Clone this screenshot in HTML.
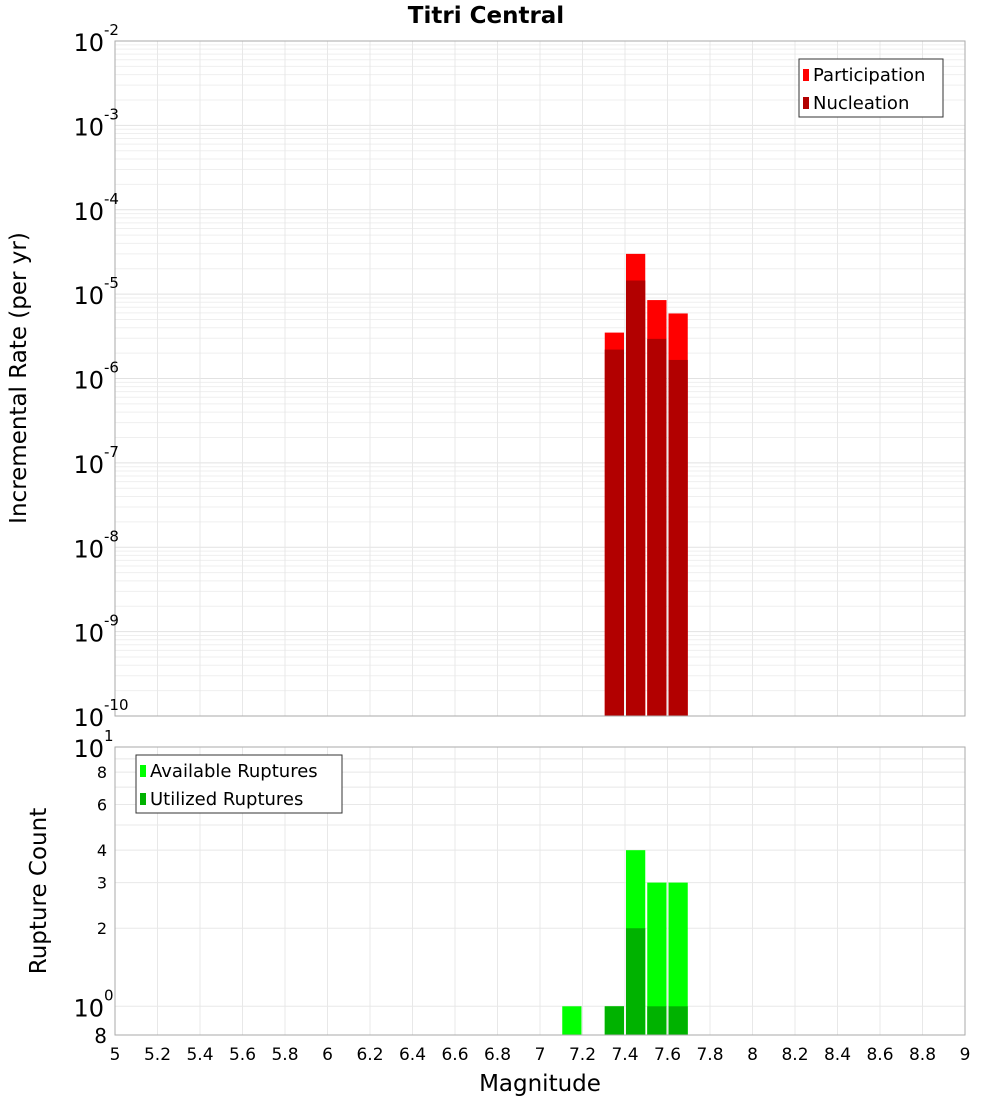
<!DOCTYPE html>
<html><head><meta charset="utf-8"><style>
body{margin:0;background:#fff;font-family:"DejaVu Sans","Liberation Sans",sans-serif}
svg text{font-family:"DejaVu Sans","Liberation Sans",sans-serif}
</style></head><body>
<svg id="c" width="1000" height="1100" viewBox="0 0 1000 1100" xmlns="http://www.w3.org/2000/svg">
<text x="486" y="23" text-anchor="middle" font-size="23" font-weight="bold">Titri Central</text>
<g id="top"></g><g id="bot"></g>
<text transform="translate(26,378) rotate(-90)" text-anchor="middle" font-size="23">Incremental Rate (per yr)</text>
<text transform="translate(46,891) rotate(-90)" text-anchor="middle" font-size="23">Rupture Count</text>
<text x="540" y="1091" text-anchor="middle" font-size="23">Magnitude</text>
</svg>
<script>
const mags=[7.35,7.45,7.55,7.65];
const participation=[3.5e-6,3.0e-5,8.5e-6,5.9e-6];
const nucleation=[2.2e-6,1.45e-5,2.95e-6,1.66e-6];
const countMags=[7.15,7.35,7.45,7.55,7.65];
const available=[1,1,4,3,3];
const utilized=[0,1,2,1,1];
const xTicks=[5,5.2,5.4,5.6,5.8,6,6.2,6.4,6.6,6.8,7,7.2,7.4,7.6,7.8,8,8.2,8.4,8.6,8.8,9];
const topDecades=[-10,-9,-8,-7,-6,-5,-4,-3,-2];
const botTicks=[2,3,4,6,8];

const NS="http://www.w3.org/2000/svg";
function mk(p,t,a){const e=document.createElementNS(NS,t);for(const k in a)e.setAttribute(k,a[k]);p.appendChild(e);return e;}
const L=115,R=965;
const x=m=>L+(m-5)/4*(R-L);
const T0=41,T1=716;
const yT=v=>T1-(Math.log10(v)+10)/8*(T1-T0);
const B0=747,B1=1035,bmin=0.775;
const yB=v=>B1-(Math.log10(v)-Math.log10(bmin))/(1-Math.log10(bmin))*(B1-B0);
const gTop=document.getElementById('top'),gBot=document.getElementById('bot');

for(let d=-10;d<-2;d++)for(let k=1;k<10;k++){const y=yT(k*Math.pow(10,d));
 const g=mk(gTop,'line',{x1:L,x2:R,y1:y,y2:y,stroke:k==1?'#e2e2e2':'#efefef','stroke-width':1});
 
 }
xTicks.forEach(t=>{[[gTop,T0,T1],[gBot,B0,B1]].forEach(([p,a,b])=>{const g=mk(p,'line',{x1:x(t),x2:x(t),y1:a,y2:b,stroke:'#e8e8e8'});
 
 });});
for(let k=1;k<=10;k++){const y=yB(k);const g=mk(gBot,'line',{x1:L,x2:R,y1:y,y2:y,stroke:'#e8e8e8'});
 
 }

const bw=(R-L)/40-2;
mags.forEach((m,i)=>{
 const b1=mk(gTop,'rect',{x:x(m)-bw/2,y:yT(participation[i]),width:bw,height:T1-yT(participation[i]),fill:'#ff0000'});
 
 
 const b2=mk(gTop,'rect',{x:x(m)-bw/2,y:yT(nucleation[i]),width:bw,height:T1-yT(nucleation[i]),fill:'#b20000'});
 
 
});
countMags.forEach((m,i)=>{
 if(available[i]>0){const b=mk(gBot,'rect',{x:x(m)-bw/2,y:yB(available[i]),width:bw,height:B1-yB(available[i]),fill:'#00ff00'});
 
 }
 if(utilized[i]>0){const b=mk(gBot,'rect',{x:x(m)-bw/2,y:yB(utilized[i]),width:bw,height:B1-yB(utilized[i]),fill:'#00b200'});
 
 }
});
[[gTop,T0,T1],[gBot,B0,B1]].forEach(([p,a,b])=>{const r=mk(p,'rect',{x:L,y:a,width:R-L,height:b-a,fill:'none',stroke:'#aaa'});
 
 });

topDecades.forEach(d=>{const y=yT(Math.pow(10,d));
 const t=mk(gTop,'text',{x:104,y:y+10,'text-anchor':'end','font-size':24});t.textContent='10';
 
 
 const s=mk(gTop,'text',{x:104,y:y-6,'font-size':15});s.textContent=String(d);
 
 });
[[10,'10','1'],[1,'10','0']].forEach(([v,b,e])=>{const y=yB(v);
 const t=mk(gBot,'text',{x:104,y:y+10,'text-anchor':'end','font-size':24});t.textContent=b;
 
 
 const s=mk(gBot,'text',{x:104,y:y-6,'font-size':15});s.textContent=e;
 
 });
botTicks.forEach(v=>{const t=mk(gBot,'text',{x:107,y:yB(v)+6,'text-anchor':'end','font-size':16});t.textContent=v;
 
 });
{const t=mk(gBot,'text',{x:107,y:1043,'text-anchor':'end','font-size':20});t.textContent='8';
 
 }
xTicks.forEach(v=>{const t=mk(gBot,'text',{x:x(v),y:1060,'text-anchor':'middle','font-size':17});t.textContent=String(v);
 
 });

function legend(p,x0,y0,w,items){const r=mk(p,'rect',{x:x0,y:y0,width:w,height:58,fill:'#fff',stroke:'#333'});
 
 
 items.forEach(([lab,col],i)=>{const s=mk(p,'rect',{x:x0+4,y:y0+10+i*28,width:6,height:12,fill:col});
  
  
  const t=mk(p,'text',{x:x0+14,y:y0+22+i*28,'font-size':18});t.textContent=lab;
  
  });}
legend(gTop,799,59,144,[['Participation','#ff0000'],['Nucleation','#b20000']]);
legend(gBot,136,755,206,[['Available Ruptures','#00ff00'],['Utilized Ruptures','#00b200']]);
</script>
</body></html>
